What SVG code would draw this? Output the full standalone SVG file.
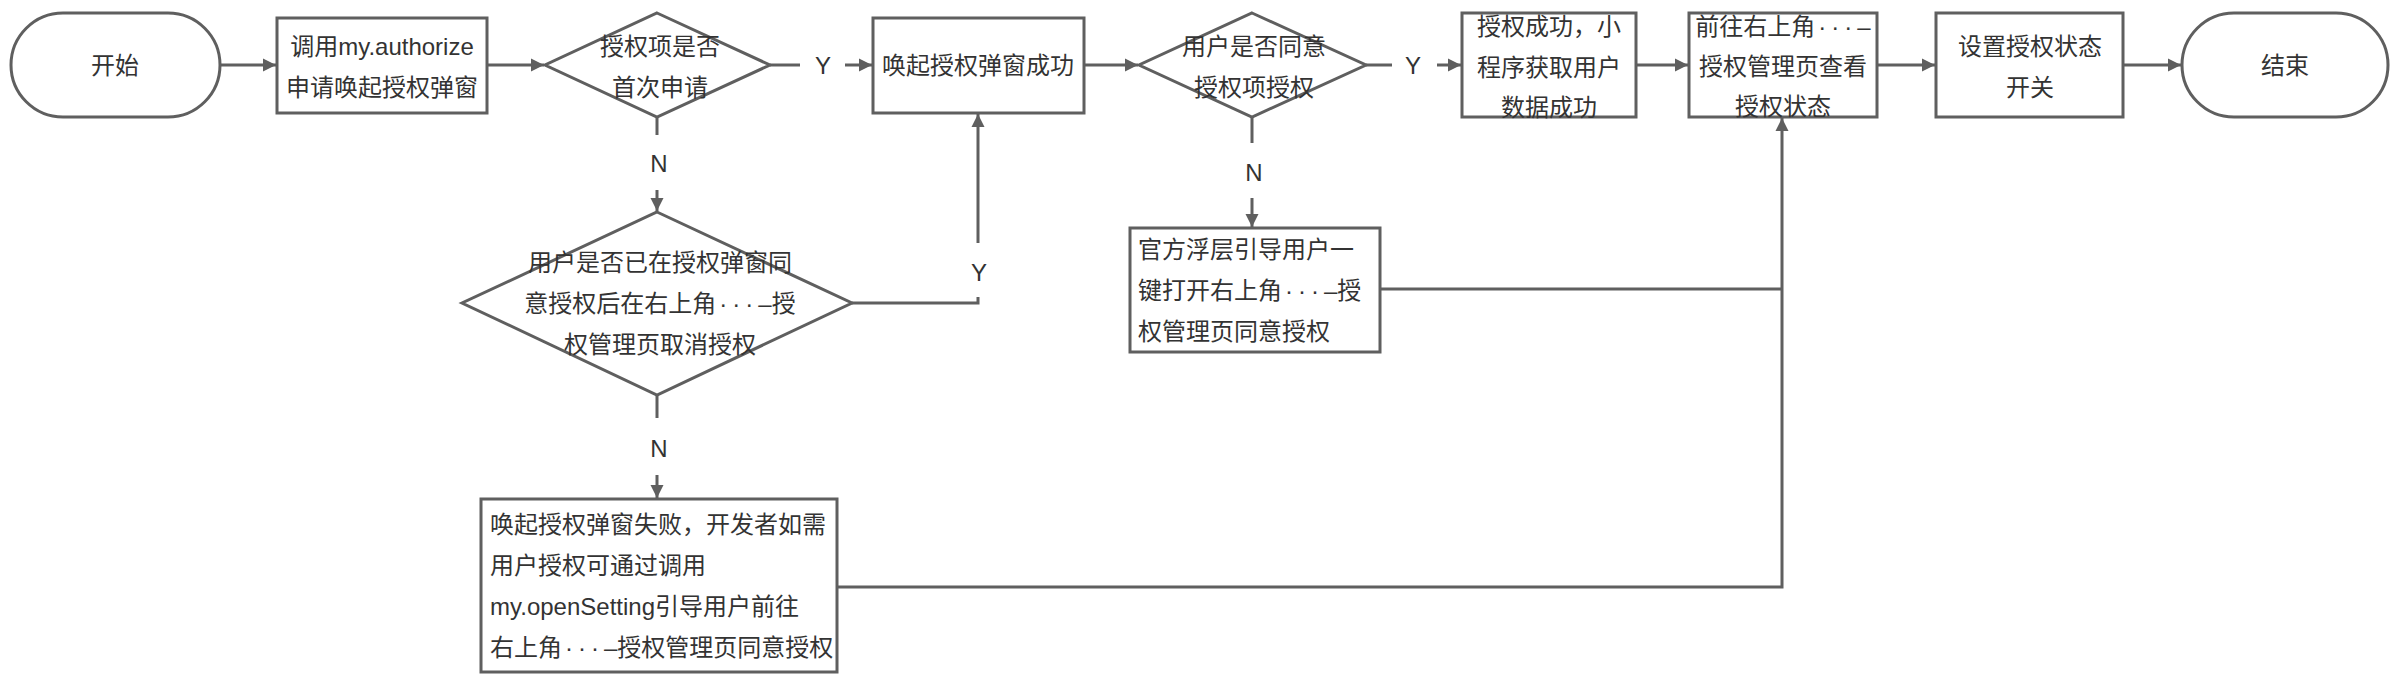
<svg xmlns="http://www.w3.org/2000/svg" width="2400" height="675" viewBox="0 0 2400 675">
<style>
  .shape { fill: #ffffff; stroke: #5f5f5f; stroke-width: 3; }
  .line { fill: none; stroke: #5f5f5f; stroke-width: 3; }
  .t { font-family: "Liberation Sans", "Noto Sans CJK SC", sans-serif; font-size: 24px; fill: #333333; }
  .c { text-anchor: middle; }
  .dots { letter-spacing: 5px; }
</style>
<defs>
  <marker id="arrow" markerUnits="userSpaceOnUse" markerWidth="14" markerHeight="14" viewBox="0 0 14 14" refX="13" refY="7" orient="auto">
    <path d="M0,0.5 L13,7 L0,13.5 Z" fill="#5f5f5f"/>
  </marker>
</defs>
<rect width="2400" height="675" fill="#ffffff"/>

<g id="connectors">
  <line class="line" x1="220" y1="65" x2="276" y2="65" marker-end="url(#arrow)"/>
  <line class="line" x1="487" y1="65" x2="544" y2="65" marker-end="url(#arrow)"/>
  <line class="line" x1="770" y1="65" x2="800" y2="65"/>
  <text class="t c" x="823" y="74">Y</text>
  <line class="line" x1="845" y1="65" x2="872" y2="65" marker-end="url(#arrow)"/>
  <line class="line" x1="1084" y1="65" x2="1138" y2="65" marker-end="url(#arrow)"/>
  <line class="line" x1="1366" y1="65" x2="1392" y2="65"/>
  <text class="t c" x="1413" y="74">Y</text>
  <line class="line" x1="1437" y1="65" x2="1461" y2="65" marker-end="url(#arrow)"/>
  <line class="line" x1="1636" y1="65" x2="1688" y2="65" marker-end="url(#arrow)"/>
  <line class="line" x1="1877" y1="65" x2="1935" y2="65" marker-end="url(#arrow)"/>
  <line class="line" x1="2123" y1="65" x2="2181" y2="65" marker-end="url(#arrow)"/>

  <line class="line" x1="657" y1="117" x2="657" y2="135"/>
  <text class="t c" x="659" y="172">N</text>
  <line class="line" x1="657" y1="190" x2="657" y2="211" marker-end="url(#arrow)"/>

  <polyline class="line" points="852,303 978,303 978,297"/>
  <text class="t c" x="979" y="281">Y</text>
  <line class="line" x1="978" y1="243" x2="978" y2="114" marker-end="url(#arrow)"/>

  <line class="line" x1="657" y1="395" x2="657" y2="418"/>
  <text class="t c" x="659" y="457">N</text>
  <line class="line" x1="657" y1="475" x2="657" y2="498" marker-end="url(#arrow)"/>

  <line class="line" x1="1252" y1="117" x2="1252" y2="143"/>
  <text class="t c" x="1254" y="181">N</text>
  <line class="line" x1="1252" y1="198" x2="1252" y2="227" marker-end="url(#arrow)"/>

  <line class="line" x1="1380" y1="289" x2="1782" y2="289"/>
  <polyline class="line" points="837,587 1782,587 1782,118" marker-end="url(#arrow)"/>
</g>

<g id="start">
  <rect class="shape" x="11" y="13" width="209" height="104" rx="52" ry="52"/>
  <text class="t c" x="115" y="74">开始</text>
</g>

<g id="call-authorize">
  <rect class="shape" x="277" y="18" width="210" height="95"/>
  <text class="t c" x="382" y="55">调用my.authorize</text>
  <text class="t c" x="382" y="96">申请唤起授权弹窗</text>
</g>

<g id="first-request">
  <polygon class="shape" points="657,13 770,65 657,117 545,65"/>
  <text class="t c" x="660" y="55">授权项是否</text>
  <text class="t c" x="660" y="96">首次申请</text>
</g>

<g id="popup-success">
  <rect class="shape" x="873" y="18" width="211" height="95"/>
  <text class="t c" x="978" y="74">唤起授权弹窗成功</text>
</g>

<g id="user-agree">
  <polygon class="shape" points="1252,13 1366,65 1252,117 1139,65"/>
  <text class="t c" x="1254" y="55">用户是否同意</text>
  <text class="t c" x="1254" y="96">授权项授权</text>
</g>

<g id="auth-success">
  <rect class="shape" x="1462" y="13" width="174" height="104"/>
  <text class="t c" x="1549" y="35">授权成功，小</text>
  <text class="t c" x="1549" y="76">程序获取用户</text>
  <text class="t c" x="1549" y="116">数据成功</text>
</g>

<g id="view-status">
  <rect class="shape" x="1689" y="13" width="188" height="104"/>
  <text class="t c" x="1783" y="35">前往右上角<tspan class="dots" dx="3">···</tspan>–</text>
  <text class="t c" x="1783" y="75">授权管理页查看</text>
  <text class="t c" x="1783" y="115">授权状态</text>
</g>

<g id="set-switch">
  <rect class="shape" x="1936" y="13" width="187" height="104"/>
  <text class="t c" x="2030" y="55">设置授权状态</text>
  <text class="t c" x="2030" y="96">开关</text>
</g>

<g id="end">
  <rect class="shape" x="2182" y="13" width="206" height="104" rx="52" ry="52"/>
  <text class="t c" x="2285" y="74">结束</text>
</g>

<g id="cancelled-check">
  <polygon class="shape" points="657,212 852,303 657,395 462,303"/>
  <text class="t c" x="660" y="271">用户是否已在授权弹窗同</text>
  <text class="t c" x="660" y="312">意授权后在右上角<tspan class="dots" dx="3">···</tspan>–授</text>
  <text class="t c" x="660" y="353">权管理页取消授权</text>
</g>

<g id="official-guide">
  <rect class="shape" x="1130" y="228" width="250" height="124"/>
  <text class="t" x="1138" y="258">官方浮层引导用户一</text>
  <text class="t" x="1138" y="299">键打开右上角<tspan class="dots" dx="3">···</tspan>–授</text>
  <text class="t" x="1138" y="340">权管理页同意授权</text>
</g>

<g id="popup-fail">
  <rect class="shape" x="481" y="499" width="356" height="173"/>
  <text class="t" x="490" y="533">唤起授权弹窗失败，开发者如需</text>
  <text class="t" x="490" y="574">用户授权可通过调用</text>
  <text class="t" x="490" y="615">my.openSetting引导用户前往</text>
  <text class="t" x="490" y="656">右上角<tspan class="dots" dx="3">···</tspan>–授权管理页同意授权</text>
</g>
</svg>
